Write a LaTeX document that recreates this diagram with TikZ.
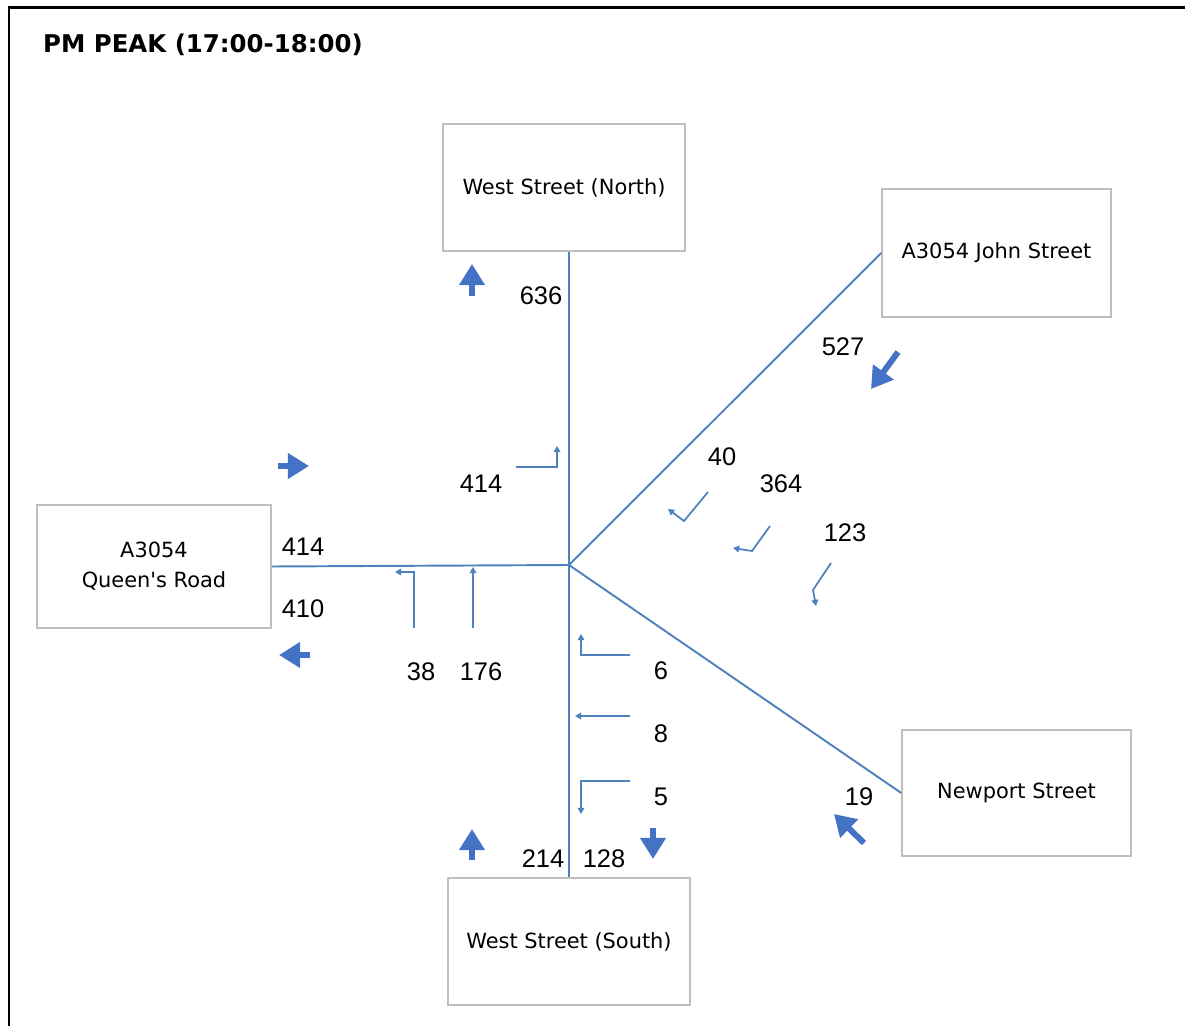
\documentclass[tikz,border=0pt]{standalone}
\usepackage{fontspec}
\setmainfont{DejaVu Sans}
\newfontfamily\numfont{Liberation Sans}
\usepackage{xcolor}
\usetikzlibrary{arrows.meta}
\definecolor{roadblue}{RGB}{79,129,189}
\definecolor{arrowblue}{RGB}{68,114,196}
\definecolor{boxgrey}{RGB}{191,191,191}

\begin{document}
\begin{tikzpicture}[
  x=0.02cm, y=-0.02cm,
  road/.style={roadblue, line width=1.1pt},
  arm/.style={draw=boxgrey, line width=0.9pt, align=center, minimum width=4.84cm,
              minimum height=2.54cm, font=\fontsize{11.9}{17}\selectfont},
  flow/.style={font=\numfont\fontsize{14.5}{16}\selectfont, inner sep=0pt},
  turn/.style={roadblue, line width=1pt, -{Triangle[length=3.5pt,width=3.8pt]}},
  dir/.style={arrowblue, line width=3.4pt, -{Triangle[length=12pt,width=14pt]}}
]
\useasboundingbox (0,0) rectangle (1185,1026);
\draw[line width=1.7pt] (9,1026) -- (9,8) -- (1185,8);
\node[anchor=west, font=\bfseries\fontsize{13.9}{16}\selectfont] (title) at (37,45)
  {PM PEAK (17:00-18:00)};

% approaches
\node[arm] (north) at (564,187.5) {West Street (North)};
\node[arm, minimum width=4.58cm, minimum height=2.56cm] (john) at (996.5,253) {A3054 John Street};
\node[arm, minimum width=4.68cm, minimum height=2.46cm] (queens) at (154,566.5) {A3054\\Queen\textquotesingle s Road};
\node[arm, minimum width=4.58cm, minimum height=2.52cm] (newport) at (1016.5,793) {Newport Street};
\node[arm] (south) at (569,941.5) {West Street (South)};

\coordinate (jn) at (569,565);
\draw[road] (jn) -- (jn |- north.south);
\draw[road] (jn) -- (jn |- south.north);
\draw[road] (jn) -- (queens.east);
\draw[road] (jn) -- (john.west);
\draw[road] (jn) -- (newport.west);

% turning counts
\node[flow] (n636) at (541,296) {636};
\node[flow] (n414n) at (481,484) {414};
\node[flow] (n414w) at (303,547) {414};
\node[flow] (n410) at (303,609) {410};
\node[flow] (n38) at (421,672) {38};
\node[flow] (n176) at (481,672) {176};
\node[flow] (n6) at (661,671) {6};
\node[flow] (n8) at (661,734) {8};
\node[flow] (n5) at (661,797) {5};
\node[flow] (n214) at (543,859) {214};
\node[flow] (n128) at (604,859) {128};
\node[flow] (n19) at (859,797) {19};
\node[flow] (n527) at (843,347) {527};
\node[flow] (n40) at (722,457) {40};
\node[flow] (n364) at (781,484) {364};
\node[flow] (n123) at (845,533) {123};

\draw[turn] (516,467) -| (557,446);
\draw[turn] (414,628) |- (395,572);
\draw[turn] (473,628) -- (473,567);
\draw[turn] (630,655) -| (581,634);
\draw[turn] (630,716) -- (575,716);
\draw[turn] (630,781) -| (581,814);
\draw[turn] (708,492) -- (684,521) -- (668,509);
\draw[turn] (770,526) -- (752,551) -- (733,548);
\draw[turn] (831,563) -- (813,590) -- (816,606);

% direction of totals
\draw[dir] (472,296) -- (472,264);
\draw[dir] (278,466) -- (309,466);
\draw[dir] (310,655) -- (279,655);
\draw[dir] (472,860) -- (472,829);
\draw[dir] (653,828) -- (653,859);
\draw[dir] (898,352) -- (871,389);
\draw[dir] (864,843) -- (834,814);
\end{tikzpicture}
\end{document}
